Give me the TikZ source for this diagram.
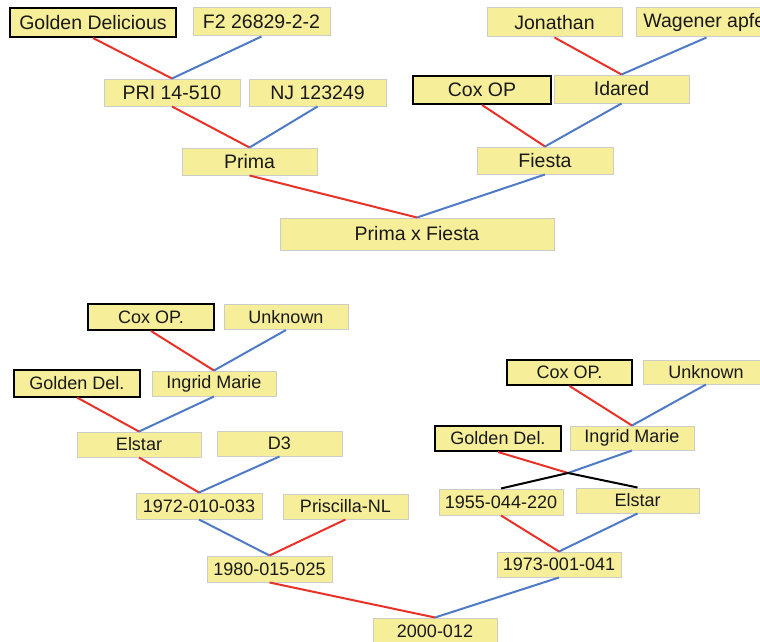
\documentclass[tikz,border=0pt]{standalone}
\usepackage{fontspec}
\setmainfont{Liberation Sans}
\definecolor{boxfill}{RGB}{246,238,152}
\definecolor{boxline}{RGB}{205,205,200}
\definecolor{lred}{RGB}{232,50,40}
\definecolor{lblue}{RGB}{78,122,198}
\tikzset{
  box/.style={rectangle, fill=boxfill, draw=boxline, line width=1pt, inner sep=0pt, text=black!90},
  topf/.style={font=\fontsize{19.5}{21}\selectfont},
  botf/.style={font=\fontsize{18}{20}\selectfont},
  thick box/.style={draw=black, line width=2pt},
  rline/.style={draw=lred, line width=2pt},
  bline/.style={draw=lblue, line width=2pt},
  kline/.style={draw=black, line width=2pt},
}
\begin{document}
\begin{tikzpicture}[x=1pt,y=-1pt]
\useasboundingbox (0,0) rectangle (760,642);
\begin{scope}
\clip (0,0) rectangle (760,642);
% top tree
\node[box,topf,thick box,minimum width=166,minimum height=29] (gd) at (93,22.5) {Golden Delicious};
\node[box,topf,minimum width=137,minimum height=28] (f2) at (261.5,22) {F2 26829-2-2};
\node[box,topf,minimum width=135,minimum height=29] (jon) at (554.5,22.5) {Jonathan};
\node[box,topf,minimum width=140,minimum height=29,anchor=west] (wag) at (636,22.5) {Wagener apfel};
\node[box,topf,minimum width=136,minimum height=27] (pri) at (172,92.5) {PRI 14-510};
\node[box,topf,minimum width=137,minimum height=27] (nj) at (317.5,92.5) {NJ 123249};
\node[box,topf,thick box,minimum width=138,minimum height=28] (cox) at (482,90) {Cox OP};
\node[box,topf,minimum width=135,minimum height=28] (ida) at (621.5,89) {Idared};
\node[box,topf,minimum width=135,minimum height=27] (prima) at (249.5,161.5) {Prima};
\node[box,topf,minimum width=136,minimum height=27] (fiesta) at (545,160.5) {Fiesta};
\node[box,topf,minimum width=274,minimum height=32] (pxf) at (417,234) {Prima x Fiesta};
\draw[rline] (gd.south) -- (pri.north);
\draw[bline] (f2.south) -- (pri.north);
\draw[rline] (pri.south) -- (prima.north);
\draw[bline] (nj.south) -- (prima.north);
\draw[rline] (jon.south) -- (ida.north);
\draw[bline] (wag.south) -- (ida.north);
\draw[rline] (cox.south) -- (fiesta.north);
\draw[bline] (ida.south) -- (fiesta.north);
\draw[rline] (prima.south) -- (pxf.north);
\draw[bline] (fiesta.south) -- (pxf.north);
% bottom left tree
\node[box,botf,thick box,minimum width=126,minimum height=26] (coxb) at (151,317) {Cox OP.};
\node[box,botf,minimum width=124,minimum height=25] (unk) at (286,317) {Unknown};
\node[box,botf,thick box,minimum width=126,minimum height=27] (gdb) at (77,383) {Golden Del.};
\node[box,botf,minimum width=124,minimum height=25] (im) at (214,383.5) {Ingrid Marie};
\node[box,botf,minimum width=124,minimum height=25] (el) at (139,444.5) {Elstar};
\node[box,botf,minimum width=125,minimum height=25] (dthree) at (279.5,443.5) {D3};
\node[box,botf,minimum width=126,minimum height=26] (na) at (199,506) {1972-010-033};
\node[box,botf,minimum width=125,minimum height=25] (pris) at (345.5,506.5) {Priscilla-NL};
\node[box,botf,minimum width=125,minimum height=26] (nb) at (269.5,569) {1980-015-025};
\node[box,botf,minimum width=124,minimum height=27] (nfin) at (435,631.5) {2000-012};
\draw[rline] (coxb.south) -- (im.north);
\draw[bline] (unk.south) -- (im.north);
\draw[rline] (gdb.south) -- (el.north);
\draw[bline] (im.south) -- (el.north);
\draw[rline] (el.south) -- (na.north);
\draw[bline] (dthree.south) -- (na.north);
\draw[bline] (na.south) -- (nb.north);
\draw[rline] (pris.south) -- (nb.north);
\draw[rline] (nb.south) -- (nfin.north);
% bottom right tree
\node[box,botf,thick box,minimum width=125,minimum height=25] (coxc) at (569.5,372.5) {Cox OP.};
\node[box,botf,minimum width=126,minimum height=24] (unkc) at (706,372) {Unknown};
\node[box,botf,thick box,minimum width=126,minimum height=25] (gdc) at (498,438.5) {Golden Del.};
\node[box,botf,minimum width=124,minimum height=24] (imc) at (632,438) {Ingrid Marie};
\node[box,botf,minimum width=124,minimum height=26] (nc) at (501,502) {1955-044-220};
\node[box,botf,minimum width=123,minimum height=25] (elc) at (637.5,500.5) {Elstar};
\node[box,botf,minimum width=124,minimum height=25] (nd) at (559,564.5) {1973-001-041};
\coordinate (cross) at (568,473);
\draw[rline] (coxc.south) -- (imc.north);
\draw[bline] (unkc.south) -- (imc.north);
\draw[rline] (gdc.south) -- (cross);
\draw[bline] (imc.south) -- (cross);
\draw[kline] (cross) -- (nc.north);
\draw[kline] (cross) -- (elc.north);
\draw[rline] (nc.south) -- (nd.north);
\draw[bline] (elc.south) -- (nd.north);
\draw[bline] (nd.south) -- (nfin.north);
\end{scope}
\end{tikzpicture}
\end{document}
